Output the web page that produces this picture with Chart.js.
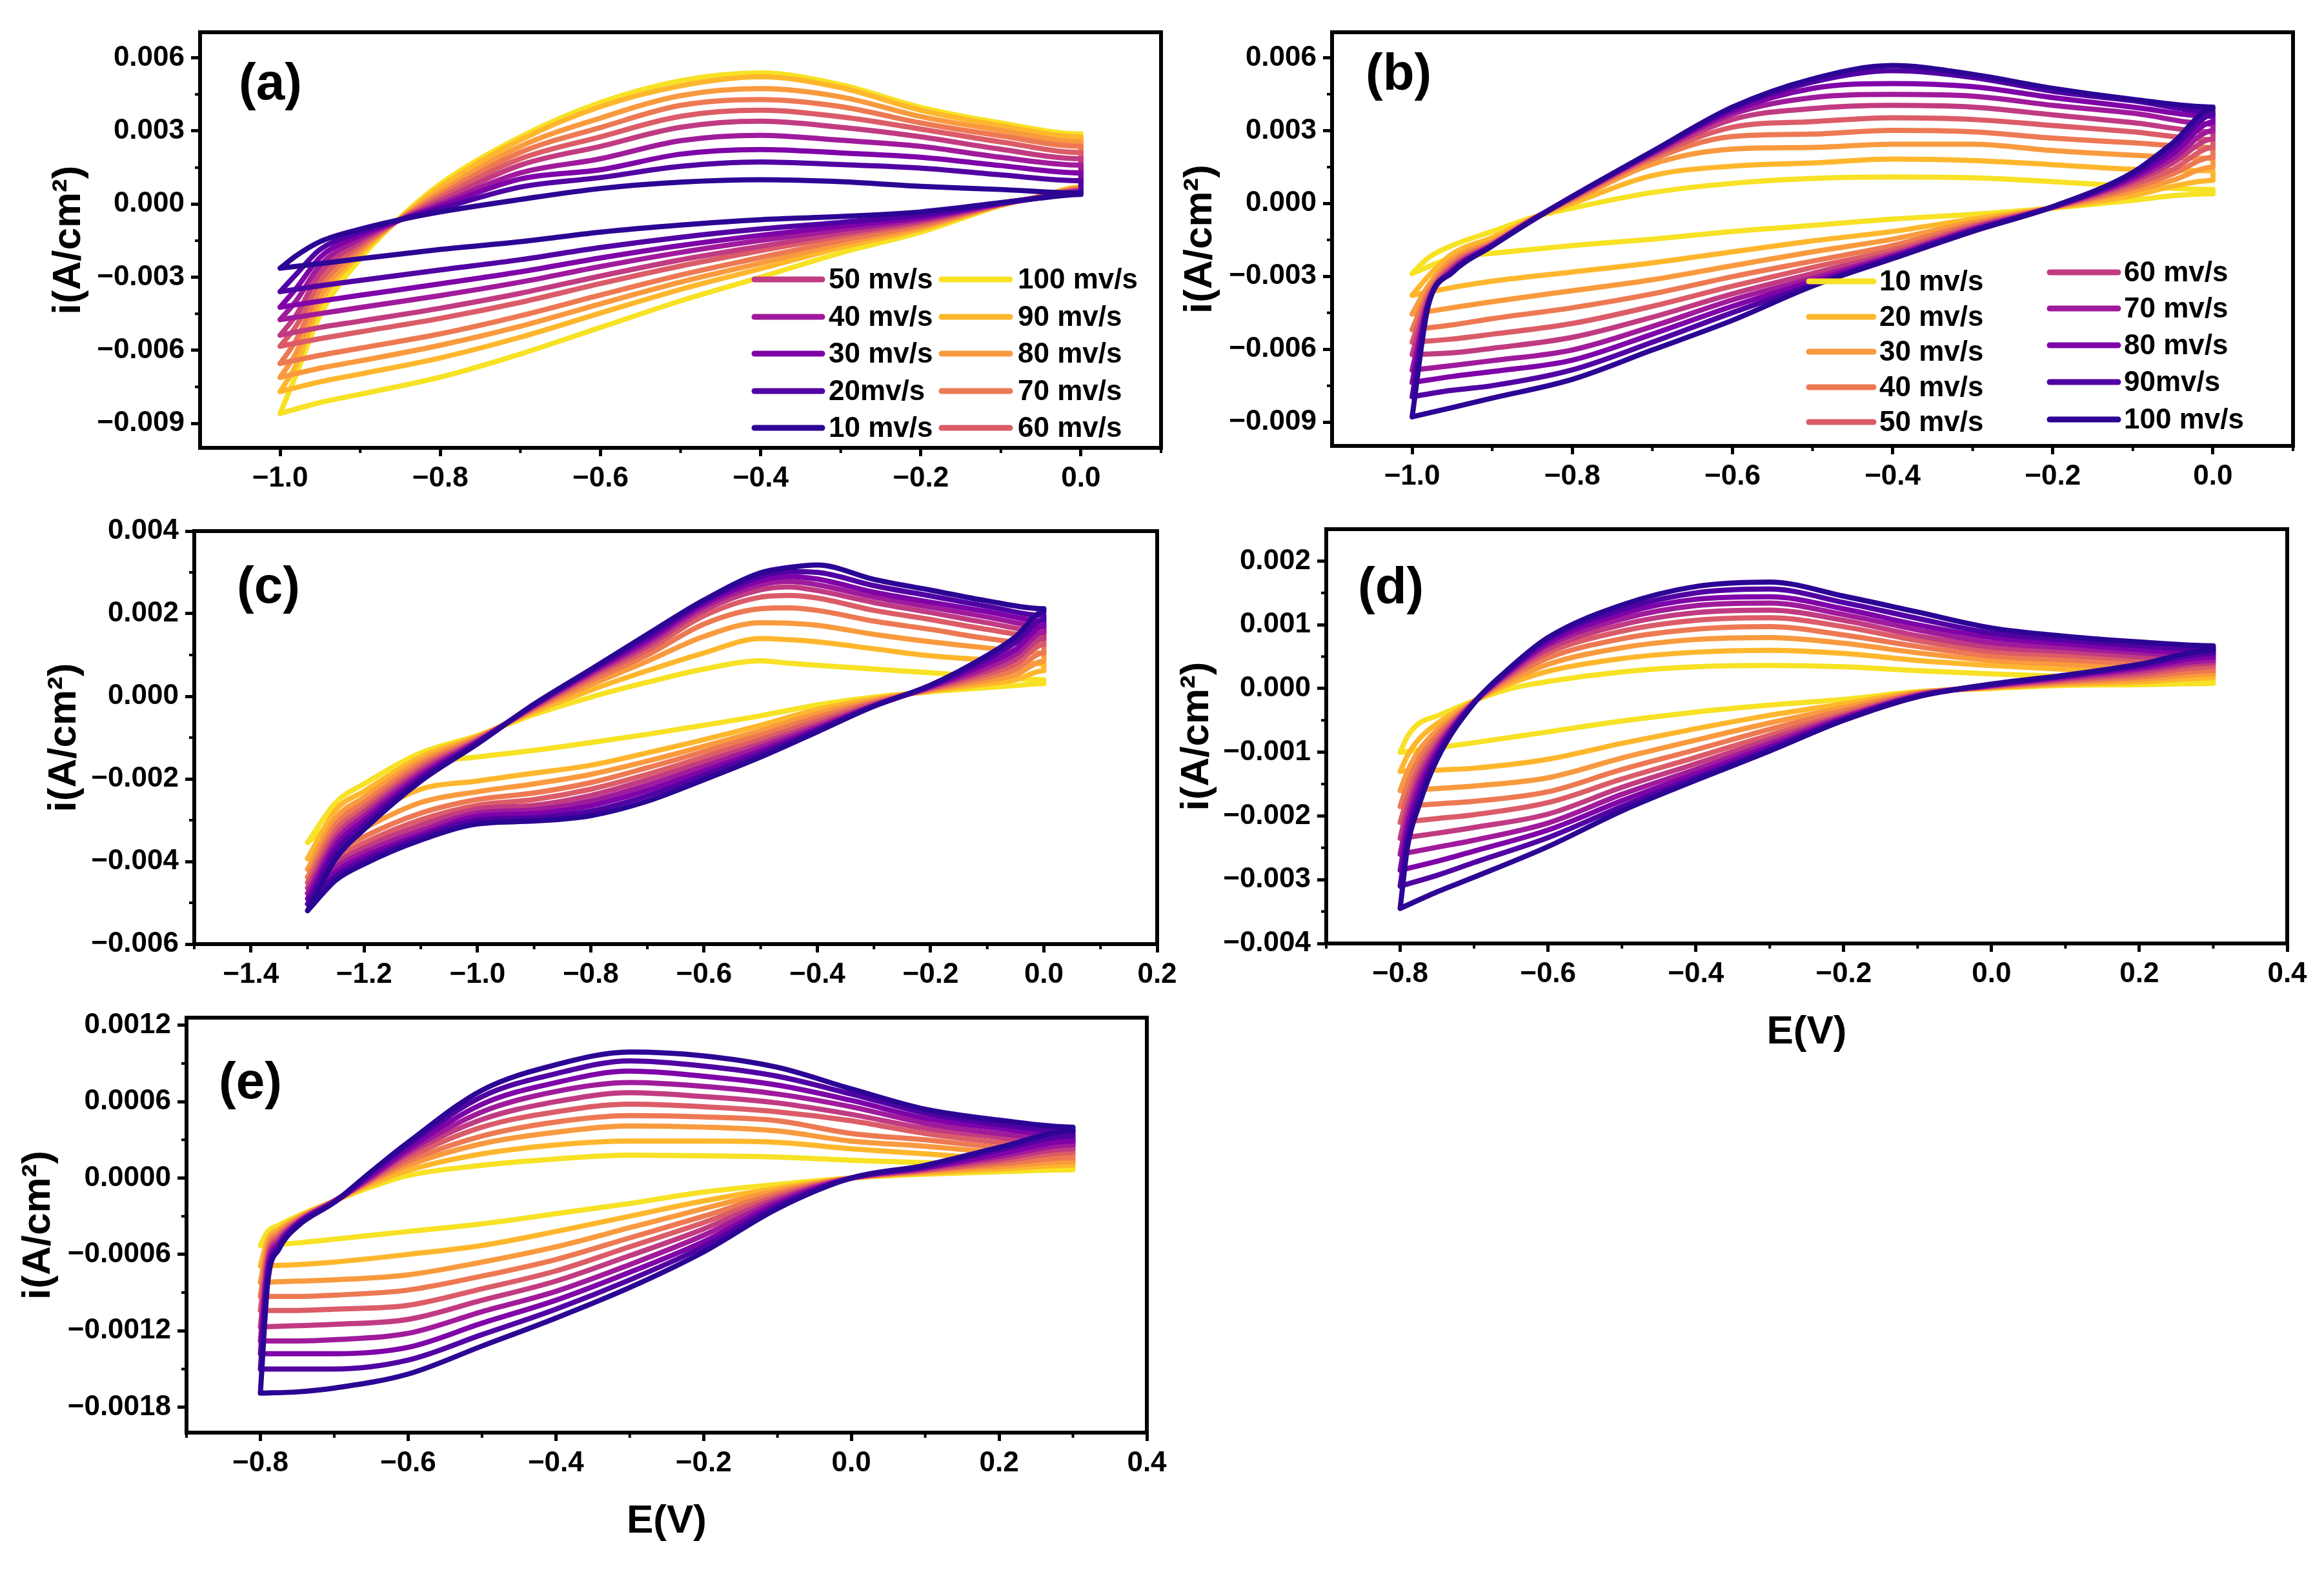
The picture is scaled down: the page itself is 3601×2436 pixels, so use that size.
<!DOCTYPE html>
<html>
<head>
<meta charset="utf-8">
<title>CV curves</title>
<script src="https://cdn.jsdelivr.net/npm/chart.js@4.4.1/dist/chart.umd.min.js"></script>
<style>
  html, body { margin: 0; padding: 0; background: #fff; }
  body { width: 3601px; height: 2436px; position: relative; overflow: hidden; }
  canvas { position: absolute; }
</style>
</head>
<body>
<script>
// scan rates (mV/s) and colour ramp, dark -> light
const rates = [10, 20, 30, 40, 50, 60, 70, 80, 90, 100];
const ramp = ['#2c0594', '#5102a3', '#7e03a8', '#a01a9c', '#c13b82',
              '#db5c68', '#ed7953', '#f99a3e', '#feb72d', '#f7e225'];

// all currents below are in mA/cm2, one row per scan rate (10 ... 100)

// ---- panel (a)
const aUpE = [-1.0, -0.98, -0.95, -0.9, -0.85, -0.8, -0.7, -0.6, -0.5, -0.4, -0.3, -0.2, -0.1, 0.0];
const aUp = [
  [-2.63, -2.12, -1.54, -1.03, -0.64, -0.32, 0.19, 0.64, 0.90, 1.00, 0.92, 0.73, 0.60, 0.45],
  [-3.59, -2.88, -1.86, -1.15, -0.64, -0.19, 0.70, 1.09, 1.55, 1.73, 1.62, 1.48, 1.20, 0.96],
  [-4.23, -3.46, -2.18, -1.28, -0.65, -0.09, 1.03, 1.41, 2.05, 2.24, 2.10, 1.92, 1.58, 1.28],
  [-4.74, -3.97, -2.50, -1.41, -0.65, 0.00, 1.28, 1.86, 2.60, 2.82, 2.62, 2.37, 1.92, 1.60],
  [-5.38, -4.55, -2.82, -1.54, -0.64, 0.13, 1.60, 2.37, 3.15, 3.40, 3.15, 2.76, 2.25, 1.86],
  [-5.83, -5.00, -3.14, -1.67, -0.63, 0.26, 1.86, 2.76, 3.60, 3.85, 3.58, 3.08, 2.55, 2.12],
  [-6.54, -5.58, -3.46, -1.80, -0.62, 0.38, 2.12, 3.14, 4.05, 4.29, 4.00, 3.33, 2.80, 2.37],
  [-7.11, -6.10, -3.78, -1.92, -0.60, 0.51, 2.37, 3.53, 4.45, 4.74, 4.40, 3.59, 3.02, 2.56],
  [-7.69, -6.60, -4.10, -2.05, -0.58, 0.70, 2.63, 4.00, 4.85, 5.22, 4.78, 3.85, 3.22, 2.76],
  [-8.59, -7.00, -4.55, -2.24, -0.55, 0.83, 2.76, 4.17, 5.06, 5.38, 4.90, 3.97, 3.33, 2.88]
];
const aDownE = [0.0, -0.05, -0.1, -0.2, -0.3, -0.4, -0.5, -0.6, -0.7, -0.8, -0.9, -0.95, -1.0];
const aDown = [
  [0.40, 0.25, 0.06, -0.32, -0.51, -0.64, -0.86, -1.15, -1.54, -1.86, -2.24, -2.44, -2.63],
  [0.45, 0.26, 0.04, -0.45, -0.75, -1.02, -1.36, -1.78, -2.28, -2.70, -3.13, -3.35, -3.59],
  [0.48, 0.27, 0.03, -0.54, -0.91, -1.28, -1.70, -2.21, -2.78, -3.27, -3.74, -3.98, -4.23],
  [0.52, 0.28, 0.02, -0.62, -1.05, -1.49, -1.98, -2.56, -3.20, -3.75, -4.24, -4.49, -4.74],
  [0.55, 0.28, 0.00, -0.70, -1.20, -1.73, -2.29, -2.95, -3.66, -4.27, -4.80, -5.06, -5.38],
  [0.58, 0.29, -0.01, -0.77, -1.31, -1.91, -2.54, -3.26, -4.03, -4.69, -5.24, -5.52, -5.83],
  [0.62, 0.30, -0.02, -0.87, -1.49, -2.19, -2.91, -3.73, -4.58, -5.32, -5.91, -6.20, -6.54],
  [0.65, 0.31, -0.03, -0.94, -1.63, -2.42, -3.20, -4.09, -5.01, -5.79, -6.43, -6.73, -7.11],
  [0.68, 0.32, -0.04, -1.03, -1.78, -2.65, -3.50, -4.47, -5.46, -6.31, -6.97, -7.29, -7.69],
  [0.70, 0.33, -0.06, -1.15, -2.00, -3.00, -3.97, -5.06, -6.15, -7.10, -7.80, -8.14, -8.59]
];
const aXTicks = [-1.0, -0.8, -0.6, -0.4, -0.2, 0.0];
const aYTicks = [-0.009, -0.006, -0.003, 0, 0.003, 0.006];

// ---- panel (b)
const bUpE = [-1.0, -0.98, -0.95, -0.9, -0.85, -0.8, -0.7, -0.6, -0.5, -0.4, -0.3, -0.2, -0.1, 0.0];
const bUp = [
  [-2.88, -2.24, -1.73, -1.15, -0.58, -0.19, 0.45, 0.83, 1.03, 1.09, 1.06, 0.90, 0.71, 0.58],
  [-3.78, -3.00, -2.08, -1.40, -0.62, 0.00, 1.15, 1.54, 1.67, 1.83, 1.77, 1.60, 1.41, 1.35],
  [-4.55, -3.40, -2.30, -1.55, -0.63, 0.12, 1.62, 2.24, 2.31, 2.44, 2.44, 2.18, 1.99, 1.86],
  [-5.19, -3.65, -2.45, -1.62, -0.64, 0.18, 1.82, 2.76, 2.86, 3.01, 2.95, 2.69, 2.50, 2.31],
  [-5.71, -3.80, -2.57, -1.66, -0.65, 0.22, 1.93, 3.14, 3.37, 3.53, 3.46, 3.21, 2.95, 2.63],
  [-6.22, -3.95, -2.65, -1.69, -0.66, 0.25, 2.00, 3.46, 3.91, 4.04, 3.97, 3.65, 3.33, 2.95],
  [-6.86, -4.05, -2.72, -1.71, -0.67, 0.27, 2.06, 3.68, 4.36, 4.49, 4.42, 4.04, 3.72, 3.27],
  [-7.37, -4.12, -2.78, -1.72, -0.68, 0.28, 2.10, 3.81, 4.74, 4.94, 4.81, 4.36, 3.97, 3.59],
  [-7.95, -4.18, -2.82, -1.74, -0.69, 0.29, 2.13, 3.91, 5.00, 5.47, 5.19, 4.62, 4.23, 3.78],
  [-8.78, -4.22, -2.85, -1.75, -0.70, 0.29, 2.15, 3.97, 5.13, 5.68, 5.32, 4.74, 4.29, 3.97]
];
const bDownE = [0.0, -0.05, -0.1, -0.2, -0.3, -0.4, -0.5, -0.6, -0.7, -0.8, -0.9, -0.95, -1.0];
const bDown = [
  [0.40, 0.32, 0.13, -0.19, -0.45, -0.64, -0.90, -1.15, -1.47, -1.73, -2.05, -2.24, -2.88],
  [0.95, 0.71, 0.32, -0.18, -0.64, -1.15, -1.54, -1.99, -2.44, -2.82, -3.20, -3.46, -3.78],
  [1.50, 0.96, 0.51, -0.17, -0.77, -1.47, -1.99, -2.56, -3.14, -3.59, -4.04, -4.29, -4.55],
  [1.90, 1.22, 0.64, -0.16, -0.86, -1.73, -2.37, -3.01, -3.72, -4.29, -4.74, -5.00, -5.19],
  [2.30, 1.41, 0.77, -0.16, -0.94, -1.92, -2.63, -3.40, -4.23, -4.94, -5.38, -5.58, -5.71],
  [2.65, 1.67, 0.90, -0.15, -1.00, -2.05, -2.88, -3.72, -4.68, -5.51, -5.96, -6.15, -6.22],
  [3.00, 1.86, 1.00, -0.15, -1.05, -2.14, -3.08, -3.97, -5.06, -6.03, -6.47, -6.67, -6.86],
  [3.35, 2.05, 1.09, -0.14, -1.09, -2.19, -3.21, -4.23, -5.38, -6.45, -6.92, -7.12, -7.37],
  [3.65, 2.27, 1.19, -0.14, -1.12, -2.23, -3.33, -4.49, -5.71, -6.85, -7.50, -7.69, -7.95],
  [3.90, 2.50, 1.28, -0.13, -1.15, -2.27, -3.40, -4.81, -6.03, -7.24, -8.01, -8.40, -8.78]
];
const bXTicks = [-1.0, -0.8, -0.6, -0.4, -0.2, 0.0];
const bYTicks = [-0.009, -0.006, -0.003, 0, 0.003, 0.006];

// ---- panel (c)
const cUpE = [-1.3, -1.25, -1.2, -1.1, -1.0, -0.9, -0.8, -0.7, -0.6, -0.5, -0.45, -0.4, -0.3, -0.2, -0.1, 0.0];
const cUp = [
  [-3.54, -2.57, -2.12, -1.37, -0.95, -0.44, -0.02, 0.34, 0.66, 0.86, 0.80, 0.75, 0.66, 0.57, 0.47, 0.40],
  [-3.93, -2.75, -2.30, -1.47, -0.97, -0.38, 0.15, 0.62, 1.05, 1.40, 1.37, 1.32, 1.15, 0.98, 0.88, 0.79],
  [-4.19, -2.95, -2.45, -1.56, -1.00, -0.33, 0.28, 0.85, 1.45, 1.78, 1.77, 1.72, 1.50, 1.32, 1.17, 1.05],
  [-4.38, -3.10, -2.58, -1.64, -1.02, -0.30, 0.38, 1.00, 1.75, 2.12, 2.14, 2.08, 1.82, 1.62, 1.40, 1.25],
  [-4.51, -3.25, -2.70, -1.72, -1.05, -0.27, 0.46, 1.12, 1.95, 2.40, 2.44, 2.38, 2.08, 1.86, 1.62, 1.44],
  [-4.64, -3.38, -2.80, -1.79, -1.07, -0.25, 0.52, 1.22, 2.08, 2.58, 2.65, 2.56, 2.27, 2.03, 1.78, 1.57],
  [-4.77, -3.50, -2.90, -1.86, -1.09, -0.23, 0.56, 1.30, 2.17, 2.70, 2.78, 2.70, 2.40, 2.16, 1.92, 1.70],
  [-4.90, -3.62, -3.00, -1.93, -1.11, -0.21, 0.60, 1.37, 2.24, 2.80, 2.90, 2.84, 2.52, 2.28, 2.05, 1.83],
  [-5.03, -3.75, -3.10, -1.99, -1.13, -0.20, 0.63, 1.44, 2.29, 2.90, 3.02, 3.00, 2.68, 2.43, 2.18, 1.96],
  [-5.19, -3.93, -3.22, -2.05, -1.15, -0.19, 0.65, 1.50, 2.33, 2.99, 3.12, 3.18, 2.83, 2.57, 2.31, 2.12]
];
const cDownE = [0.0, -0.05, -0.1, -0.2, -0.3, -0.4, -0.5, -0.6, -0.7, -0.8, -0.9, -1.0, -1.1, -1.2, -1.25, -1.3];
const cDown = [
  [0.31, 0.26, 0.21, 0.11, -0.02, -0.21, -0.47, -0.70, -0.92, -1.12, -1.31, -1.47, -1.67, -2.50, -3.00, -3.54],
  [0.62, 0.40, 0.30, 0.13, -0.06, -0.32, -0.70, -1.05, -1.37, -1.67, -1.86, -2.05, -2.25, -2.95, -3.40, -3.93],
  [0.85, 0.52, 0.38, 0.15, -0.10, -0.42, -0.83, -1.21, -1.57, -1.89, -2.12, -2.31, -2.57, -3.20, -3.62, -4.19],
  [1.05, 0.65, 0.46, 0.17, -0.14, -0.51, -0.94, -1.34, -1.73, -2.09, -2.34, -2.50, -2.83, -3.40, -3.80, -4.38],
  [1.25, 0.78, 0.54, 0.19, -0.17, -0.60, -1.05, -1.47, -1.89, -2.25, -2.50, -2.64, -2.99, -3.55, -3.93, -4.51],
  [1.40, 0.90, 0.62, 0.21, -0.20, -0.68, -1.15, -1.59, -2.02, -2.40, -2.64, -2.73, -3.12, -3.67, -4.04, -4.64],
  [1.55, 1.02, 0.70, 0.23, -0.22, -0.74, -1.23, -1.70, -2.15, -2.53, -2.75, -2.83, -3.25, -3.78, -4.14, -4.77],
  [1.70, 1.14, 0.80, 0.24, -0.23, -0.79, -1.32, -1.81, -2.28, -2.65, -2.84, -2.91, -3.35, -3.88, -4.25, -4.90],
  [1.85, 1.30, 0.90, 0.26, -0.24, -0.82, -1.39, -1.91, -2.41, -2.78, -2.94, -3.00, -3.41, -3.97, -4.35, -5.03],
  [2.05, 1.44, 0.99, 0.27, -0.24, -0.86, -1.47, -2.02, -2.54, -2.89, -3.02, -3.09, -3.48, -4.06, -4.45, -5.19]
];
const cXTicks = [-1.4, -1.2, -1.0, -0.8, -0.6, -0.4, -0.2, 0.0, 0.2];
const cYTicks = [-0.006, -0.004, -0.002, 0, 0.002, 0.004];

// ---- panel (d)
const dUpE = [-0.8, -0.79, -0.775, -0.75, -0.7, -0.65, -0.6, -0.5, -0.4, -0.3, -0.2, -0.1, 0.0, 0.1, 0.2, 0.3];
const dUp = [
  [-1.00, -0.75, -0.55, -0.43, -0.19, 0.00, 0.11, 0.26, 0.34, 0.36, 0.34, 0.28, 0.23, 0.19, 0.14, 0.11],
  [-1.30, -1.05, -0.80, -0.55, -0.20, 0.08, 0.27, 0.47, 0.57, 0.60, 0.55, 0.44, 0.36, 0.30, 0.25, 0.20],
  [-1.60, -1.30, -0.98, -0.65, -0.20, 0.13, 0.38, 0.64, 0.77, 0.80, 0.71, 0.56, 0.44, 0.38, 0.32, 0.26],
  [-1.85, -1.50, -1.12, -0.73, -0.21, 0.18, 0.48, 0.78, 0.93, 0.97, 0.84, 0.66, 0.51, 0.45, 0.39, 0.32],
  [-2.10, -1.70, -1.25, -0.80, -0.21, 0.22, 0.56, 0.90, 1.07, 1.11, 0.97, 0.75, 0.58, 0.52, 0.45, 0.38],
  [-2.35, -1.87, -1.37, -0.87, -0.21, 0.25, 0.62, 1.00, 1.19, 1.23, 1.07, 0.83, 0.65, 0.58, 0.50, 0.43],
  [-2.60, -2.03, -1.48, -0.93, -0.22, 0.28, 0.68, 1.09, 1.30, 1.34, 1.16, 0.92, 0.72, 0.64, 0.56, 0.49],
  [-2.85, -2.18, -1.60, -0.99, -0.22, 0.30, 0.72, 1.17, 1.40, 1.44, 1.25, 1.00, 0.80, 0.70, 0.61, 0.55],
  [-3.10, -2.33, -1.72, -1.05, -0.22, 0.32, 0.77, 1.24, 1.50, 1.56, 1.35, 1.10, 0.87, 0.76, 0.67, 0.61],
  [-3.45, -2.48, -1.85, -1.11, -0.23, 0.34, 0.80, 1.31, 1.60, 1.67, 1.45, 1.20, 0.95, 0.82, 0.73, 0.67]
];
const dDownE = [0.3, 0.2, 0.1, 0.0, -0.1, -0.2, -0.3, -0.4, -0.5, -0.6, -0.7, -0.75, -0.8];
const dDown = [
  [0.08, 0.06, 0.05, 0.00, -0.05, -0.17, -0.26, -0.37, -0.51, -0.68, -0.85, -0.93, -1.00],
  [0.17, 0.10, 0.07, 0.01, -0.06, -0.24, -0.42, -0.63, -0.86, -1.11, -1.25, -1.28, -1.30],
  [0.23, 0.14, 0.09, 0.02, -0.07, -0.30, -0.54, -0.81, -1.09, -1.40, -1.53, -1.57, -1.60],
  [0.28, 0.18, 0.11, 0.03, -0.08, -0.35, -0.64, -0.96, -1.27, -1.62, -1.77, -1.81, -1.85],
  [0.34, 0.22, 0.13, 0.03, -0.09, -0.40, -0.73, -1.08, -1.42, -1.79, -1.98, -2.04, -2.10],
  [0.40, 0.26, 0.15, 0.04, -0.10, -0.43, -0.80, -1.18, -1.55, -1.97, -2.18, -2.27, -2.35],
  [0.44, 0.30, 0.17, 0.05, -0.11, -0.45, -0.86, -1.27, -1.66, -2.11, -2.38, -2.49, -2.60],
  [0.49, 0.33, 0.19, 0.05, -0.12, -0.47, -0.91, -1.34, -1.76, -2.22, -2.55, -2.71, -2.85],
  [0.55, 0.36, 0.20, 0.06, -0.12, -0.49, -0.95, -1.40, -1.85, -2.34, -2.73, -2.93, -3.10],
  [0.60, 0.38, 0.21, 0.07, -0.13, -0.50, -0.98, -1.44, -1.92, -2.48, -2.96, -3.19, -3.45]
];
const dXTicks = [-0.8, -0.6, -0.4, -0.2, 0.0, 0.2, 0.4];
const dYTicks = [-0.004, -0.003, -0.002, -0.001, 0, 0.001, 0.002];

// ---- panel (e)
const eUpE = [-0.8, -0.79, -0.775, -0.75, -0.7, -0.65, -0.6, -0.5, -0.4, -0.3, -0.2, -0.1, 0.0, 0.1, 0.2, 0.3];
const eUp = [
  [-0.53, -0.42, -0.37, -0.30, -0.18, -0.07, 0.02, 0.10, 0.15, 0.18, 0.175, 0.165, 0.14, 0.12, 0.10, 0.08],
  [-0.69, -0.48, -0.40, -0.31, -0.18, -0.05, 0.06, 0.19, 0.26, 0.29, 0.29, 0.28, 0.23, 0.19, 0.15, 0.12],
  [-0.82, -0.52, -0.42, -0.32, -0.18, -0.03, 0.10, 0.27, 0.36, 0.41, 0.40, 0.37, 0.29, 0.25, 0.20, 0.15],
  [-0.93, -0.56, -0.44, -0.33, -0.18, -0.02, 0.13, 0.33, 0.44, 0.49, 0.48, 0.45, 0.35, 0.30, 0.24, 0.19],
  [-1.04, -0.60, -0.46, -0.34, -0.18, -0.01, 0.16, 0.40, 0.52, 0.58, 0.56, 0.52, 0.45, 0.35, 0.28, 0.23],
  [-1.17, -0.64, -0.48, -0.35, -0.18, 0.00, 0.19, 0.46, 0.60, 0.67, 0.64, 0.59, 0.50, 0.39, 0.32, 0.26],
  [-1.28, -0.68, -0.50, -0.35, -0.18, 0.01, 0.21, 0.52, 0.68, 0.75, 0.72, 0.66, 0.56, 0.43, 0.35, 0.30],
  [-1.38, -0.72, -0.52, -0.36, -0.19, 0.02, 0.23, 0.58, 0.75, 0.84, 0.80, 0.73, 0.61, 0.47, 0.39, 0.33],
  [-1.50, -0.77, -0.54, -0.37, -0.19, 0.04, 0.26, 0.64, 0.82, 0.92, 0.88, 0.80, 0.66, 0.51, 0.42, 0.37],
  [-1.69, -0.82, -0.56, -0.38, -0.19, 0.05, 0.28, 0.69, 0.89, 0.99, 0.96, 0.87, 0.70, 0.54, 0.455, 0.40]
];
const eDownE = [0.3, 0.2, 0.1, 0.0, -0.1, -0.2, -0.3, -0.4, -0.5, -0.6, -0.7, -0.75, -0.8];
const eDown = [
  [0.065, 0.05, 0.03, 0.00, -0.05, -0.11, -0.20, -0.28, -0.36, -0.42, -0.48, -0.51, -0.53],
  [0.10, 0.07, 0.04, 0.00, -0.08, -0.18, -0.30, -0.42, -0.53, -0.60, -0.66, -0.68, -0.69],
  [0.13, 0.09, 0.05, 0.00, -0.10, -0.24, -0.39, -0.54, -0.66, -0.76, -0.80, -0.81, -0.82],
  [0.16, 0.11, 0.06, 0.00, -0.12, -0.30, -0.47, -0.64, -0.77, -0.88, -0.92, -0.93, -0.93],
  [0.20, 0.13, 0.06, 0.00, -0.14, -0.35, -0.54, -0.73, -0.87, -1.00, -1.03, -1.04, -1.04],
  [0.23, 0.15, 0.07, 0.00, -0.16, -0.40, -0.61, -0.81, -0.96, -1.11, -1.15, -1.16, -1.17],
  [0.26, 0.17, 0.08, 0.00, -0.18, -0.45, -0.68, -0.89, -1.05, -1.22, -1.27, -1.28, -1.28],
  [0.29, 0.19, 0.08, 0.00, -0.20, -0.50, -0.74, -0.96, -1.14, -1.33, -1.38, -1.38, -1.38],
  [0.33, 0.22, 0.09, 0.00, -0.22, -0.54, -0.80, -1.03, -1.23, -1.43, -1.50, -1.50, -1.50],
  [0.37, 0.24, 0.10, 0.00, -0.24, -0.58, -0.86, -1.10, -1.32, -1.54, -1.65, -1.68, -1.69]
];
const eXTicks = [-0.8, -0.6, -0.4, -0.2, 0.0, 0.2, 0.4];
const eYTicks = [-0.0018, -0.0012, -0.0006, 0, 0.0006, 0.0012];

// legend text, column by column
const aLegend = [['50 mv/s', '40 mv/s', '30 mv/s', '20mv/s', '10 mv/s'],
                 ['100 mv/s', '90 mv/s', '80 mv/s', '70 mv/s', '60 mv/s']];
const aLegendRates = [[50, 40, 30, 20, 10], [100, 90, 80, 70, 60]];
const bLegend = [['10 mv/s', '20 mv/s', '30 mv/s', '40 mv/s', '50 mv/s'],
                 ['60 mv/s', '70 mv/s', '80 mv/s', '90mv/s', '100 mv/s']];
const bLegendRates = [[10, 20, 30, 40, 50], [60, 70, 80, 90, 100]];

const FONT = '"Liberation Sans", Arial, Helvetica, sans-serif';
const PAD_T = 40, PAD_R = 60;

Chart.defaults.color = '#000';
Chart.defaults.font.family = FONT;

function fmt(v, d) {
  return v.toFixed(d).replace('-', '\u2212');
}

function loop(upE, up, downE, down) {
  const pts = upE.map((e, k) => ({x: e, y: up[k] / 1000}));
  downE.forEach((e, k) => pts.push({x: e, y: down[k] / 1000}));
  return pts;
}

function decor(p) {
  return {
    id: 'decor' + p.letter,
    afterDraw(chart) {
      const {ctx, chartArea: a, scales} = chart;
      ctx.save();
      ctx.strokeStyle = '#000';
      ctx.lineWidth = 4;
      ctx.beginPath();
      p.xMinor.forEach(v => {
        const px = scales.x.getPixelForValue(v);
        ctx.moveTo(px, a.bottom); ctx.lineTo(px, a.bottom + 8);
      });
      p.yMinor.forEach(v => {
        const py = scales.y.getPixelForValue(v);
        ctx.moveTo(a.left, py); ctx.lineTo(a.left - 8, py);
      });
      ctx.stroke();
      ctx.lineWidth = 6;
      ctx.strokeRect(a.left, a.top, a.right - a.left, a.bottom - a.top);

      ctx.fillStyle = '#000';
      ctx.textBaseline = 'middle';
      ctx.textAlign = 'left';
      ctx.font = 'bold 80px ' + FONT;
      ctx.fillText(p.letter, a.left + p.letterAt[0], a.top + p.letterAt[1]);

      if (p.legend) {
        const L = p.legend;
        ctx.font = 'bold 44px ' + FONT;
        ctx.lineCap = 'round';
        ctx.lineWidth = 9;
        L.text.forEach((col, ci) => {
          col.forEach((t, ri) => {
            const y = a.top + L.rows[ci][ri];
            ctx.strokeStyle = p.color(L.rates[ci][ri]);
            ctx.beginPath();
            ctx.moveTo(a.left + L.line[ci][0], y);
            ctx.lineTo(a.left + L.line[ci][1], y);
            ctx.stroke();
            ctx.fillText(t, a.left + L.textX[ci], y + 2);
          });
        });
      }
      ctx.restore();
    }
  };
}

function panel(p) {
  const [fl, ft, fr, fb] = p.frame;
  const w = (fr - fl) + p.ly + PAD_R;
  const h = (fb - ft) + PAD_T + p.lx;
  const cv = document.createElement('canvas');
  cv.width = w; cv.height = h;
  cv.style.width = w + 'px'; cv.style.height = h + 'px';
  cv.style.left = (fl - p.ly) + 'px';
  cv.style.top = (ft - PAD_T) + 'px';
  document.body.appendChild(cv);

  const datasets = rates.map((r, i) => ({
    label: r + ' mV/s',
    data: loop(p.upE, p.up[i], p.downE, p.down[i]),
    borderColor: p.color(r),
    borderWidth: 8,
    pointRadius: 0,
    showLine: true,
    fill: false,
    cubicInterpolationMode: 'monotone',
    borderJoinStyle: 'round',
    borderCapStyle: 'round',
    order: p.topSlow ? i : 9 - i
  }));

  const tickFont = {size: 44, weight: 'bold', family: FONT};
  const titleFont = {size: 62, weight: 'bold', family: FONT};

  new Chart(cv, {
    type: 'scatter',
    data: {datasets},
    options: {
      responsive: false,
      devicePixelRatio: 1,
      animation: false,
      events: [],
      layout: {padding: {left: 0, top: PAD_T, right: PAD_R, bottom: 0}},
      plugins: {legend: {display: false}, tooltip: {enabled: false}},
      scales: {
        x: {
          type: 'linear',
          min: p.xRange[0], max: p.xRange[1],
          afterBuildTicks: s => { s.ticks = p.xTicks.map(v => ({value: v})); },
          afterFit: s => { s.height = p.lx; },
          ticks: {
            font: tickFont, color: '#000', padding: 8,
            autoSkip: false, maxRotation: 0, minRotation: 0,
            callback: v => fmt(v, 1)
          },
          grid: {display: true, drawOnChartArea: false, drawTicks: true,
                 tickLength: 13, tickWidth: 5, tickColor: '#000'},
          border: {display: false},
          title: {display: !!p.xTitle, text: p.xTitle || '', font: titleFont,
                  color: '#000', padding: 0}
        },
        y: {
          type: 'linear',
          min: p.yRange[0], max: p.yRange[1],
          afterBuildTicks: s => { s.ticks = p.yTicks.map(v => ({value: v})); },
          afterFit: s => { s.width = p.ly; },
          ticks: {
            font: tickFont, color: '#000', padding: 10,
            autoSkip: false,
            callback: v => fmt(v, p.yDec)
          },
          grid: {display: true, drawOnChartArea: false, drawTicks: true,
                 tickLength: 14, tickWidth: 5, tickColor: '#000'},
          border: {display: false},
          title: {display: true, text: 'i(A/cm\u00b2)', font: titleFont,
                  color: '#000', padding: 0}
        }
      }
    },
    plugins: [decor(p)]
  });
}

const slowDark = r => ramp[rates.indexOf(r)];
const slowLight = r => ramp[9 - rates.indexOf(r)];

panel({
  letter: '(a)', letterAt: [60, 82],
  frame: [310, 50, 1799, 694], ly: 240, lx: 100,
  xRange: [-1.1, 0.1], yRange: [-0.01, 0.00705],
  xTicks: aXTicks, yTicks: aYTicks, yDec: 3,
  xMinor: [-0.9, -0.7, -0.5, -0.3, -0.1, 0.1],
  yMinor: [-0.0075, -0.0045, -0.0015, 0.0015, 0.0045],
  upE: aUpE, up: aUp, downE: aDownE, down: aDown,
  color: slowDark, topSlow: true,
  legend: {text: aLegend, rates: aLegendRates,
           line: [[859, 964], [1149, 1255]], textX: [974, 1267],
           rows: [[383, 441, 498, 556, 613], [383, 441, 498, 556, 613]]}
});

panel({
  letter: '(b)', letterAt: [52, 67],
  frame: [2064, 50, 3553, 691], ly: 241, lx: 100,
  xRange: [-1.1, 0.1], yRange: [-0.00998, 0.00705],
  xTicks: bXTicks, yTicks: bYTicks, yDec: 3,
  xMinor: [-0.9, -0.7, -0.5, -0.3, -0.1, 0.1],
  yMinor: [-0.0075, -0.0045, -0.0015, 0.0015, 0.0045],
  upE: bUpE, up: bUp, downE: bDownE, down: bDown,
  color: slowLight, topSlow: false,
  legend: {text: bLegend, rates: bLegendRates,
           line: [[739, 839], [1112, 1218]], textX: [848, 1227],
           rows: [[386, 441, 495, 550, 604], [372, 428, 485, 542, 600]]}
});

panel({
  letter: '(c)', letterAt: [66, 89],
  frame: [301, 823, 1793, 1463], ly: 238, lx: 100,
  xRange: [-1.5, 0.2], yRange: [-0.006, 0.004],
  xTicks: cXTicks, yTicks: cYTicks, yDec: 3,
  xMinor: [-1.5, -1.3, -1.1, -0.9, -0.7, -0.5, -0.3, -0.1, 0.1],
  yMinor: [-0.005, -0.003, -0.001, 0.001, 0.003],
  upE: cUpE, up: cUp, downE: cDownE, down: cDown,
  color: slowLight, topSlow: false
});

panel({
  letter: '(d)', letterAt: [49, 93],
  frame: [2055, 820, 3544, 1462], ly: 237, lx: 175,
  xRange: [-0.9, 0.4], yRange: [-0.004, 0.0025],
  xTicks: dXTicks, yTicks: dYTicks, yDec: 3,
  xMinor: [-0.9, -0.7, -0.5, -0.3, -0.1, 0.1, 0.3],
  yMinor: [-0.0035, -0.0025, -0.0015, -0.0005, 0.0005, 0.0015],
  upE: dUpE, up: dUp, downE: dDownE, down: dDown,
  color: slowLight, topSlow: false, xTitle: 'E(V)'
});

panel({
  letter: '(e)', letterAt: [50, 103],
  frame: [289, 1577, 1777, 2220], ly: 266, lx: 175,
  xRange: [-0.9, 0.4], yRange: [-0.0020, 0.00126],
  xTicks: eXTicks, yTicks: eYTicks, yDec: 4,
  xMinor: [-0.9, -0.7, -0.5, -0.3, -0.1, 0.1, 0.3],
  yMinor: [-0.0015, -0.0009, -0.0003, 0.0003, 0.0009],
  upE: eUpE, up: eUp, downE: eDownE, down: eDown,
  color: slowLight, topSlow: false, xTitle: 'E(V)'
});
</script>
</body>
</html>
